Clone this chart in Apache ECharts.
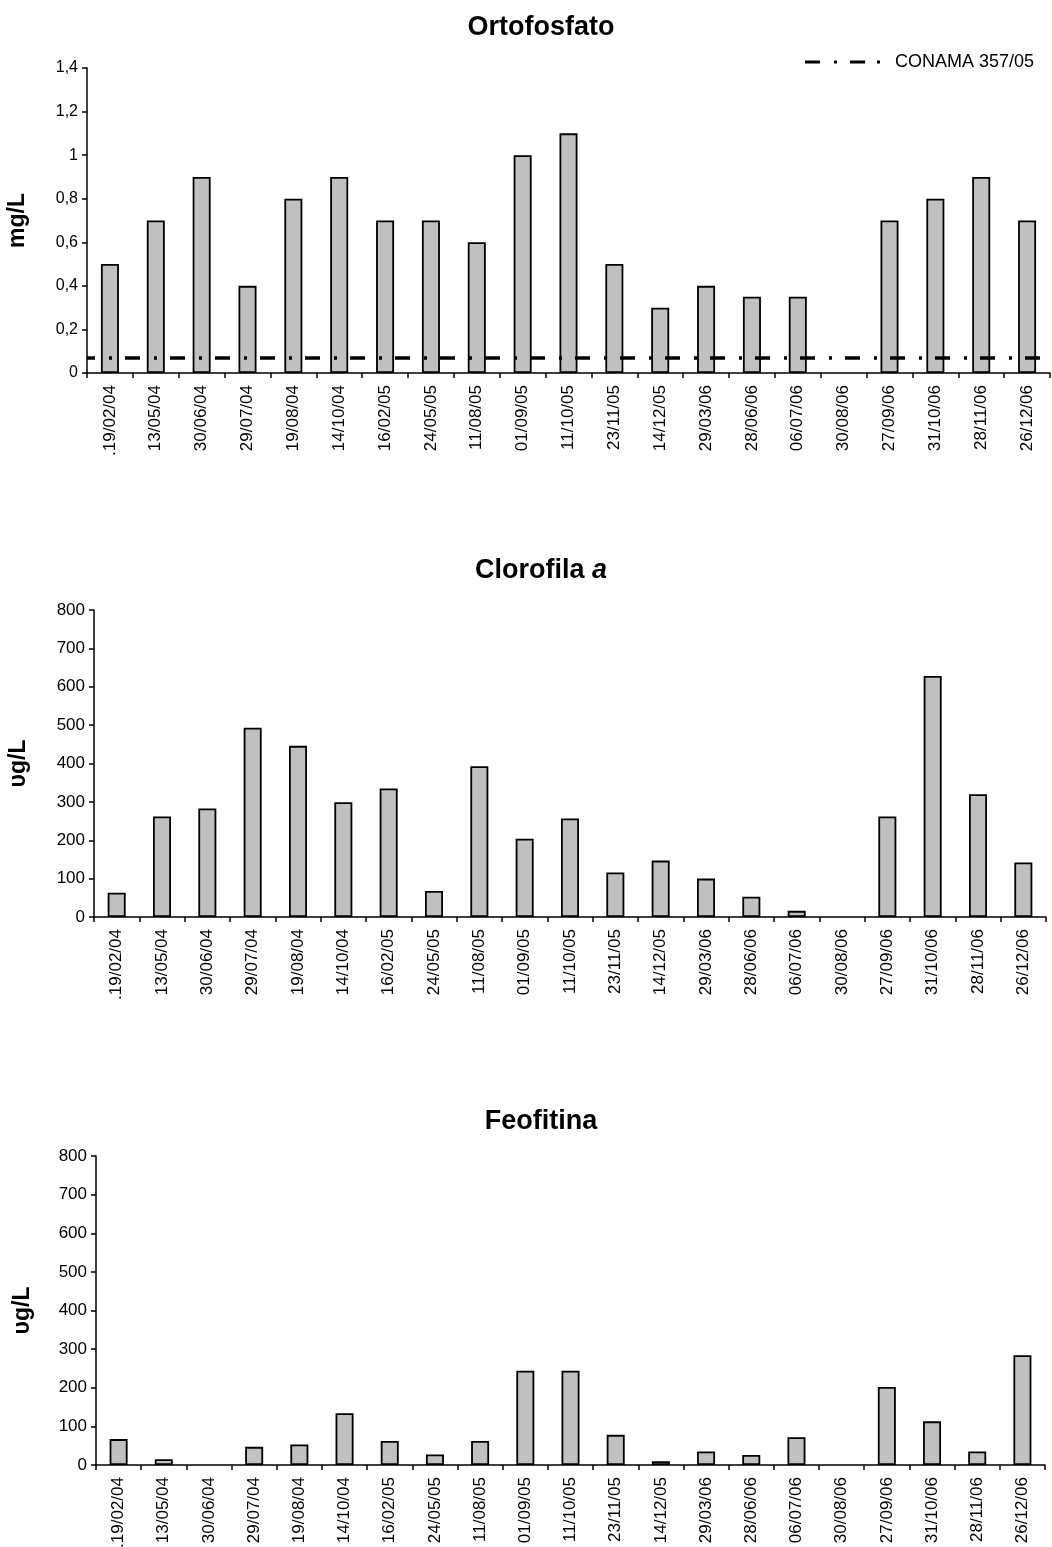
<!DOCTYPE html>
<html>
<head>
<meta charset="utf-8">
<script src="https://cdn.jsdelivr.net/npm/echarts@6/dist/echarts.min.js"></script>
<style>
html,body{margin:0;padding:0;background:#fff;}
#c{width:1052px;height:1547px;}
</style>
</head>
<body>
<div id="c"></div>
<script>
var categories = ['.19/02/04','13/05/04','30/06/04','29/07/04','19/08/04','14/10/04','16/02/05','24/05/05','11/08/05','01/09/05','11/10/05','23/11/05','14/12/05','29/03/06','28/06/06','06/07/06','30/08/06','27/09/06','31/10/06','28/11/06','26/12/06'];
var ortofosfato = [0.5,0.7,0.9,0.4,0.8,0.9,0.7,0.7,0.6,1.0,1.1,0.5,0.3,0.4,0.35,0.35,null,0.7,0.8,0.9,0.7];
var clorofila = [63,262,283,493,446,299,335,68,393,204,257,116,147,100,53,16,null,262,628,320,142];
var feofitina = [67,15,null,47,53,134,62,27,62,244,244,78,10,35,26,72,null,202,113,35,284];
var conamaLimit = 0.075;
var titles = ['Ortofosfato', 'Clorofila {i|a}', 'Feofitina'];
var yNames = ['mg/L', 'υg/L', 'υg/L'];
var yTicks1 = [0, 1.4, 0.2];
var yTicks23 = [0, 800, 100];

var FONT = "'Liberation Sans', Arial, sans-serif";
var chart = echarts.init(document.getElementById('c'), null, {renderer: 'canvas'});

var grids = [
  {left: 87, top: 68, height: 305, right: 2, containLabel: false, outerBoundsMode: 'none'},
  {left: 94, top: 610, height: 307, right: 6, containLabel: false, outerBoundsMode: 'none'},
  {left: 96, top: 1156, height: 309, right: 7, containLabel: false, outerBoundsMode: 'none'}
];
var titleTops = [9, 552, 1103];
var nameGaps = [58, 64, 62];

function xAxis(i) {
  return {
    type: 'category', gridIndex: i, data: categories, boundaryGap: true,
    axisLine: {lineStyle: {color: '#000', width: 1.5}},
    axisTick: {show: true, alignWithLabel: false, length: 5, lineStyle: {color: '#000', width: 1.5}},
    axisLabel: {interval: 0, rotate: 90, margin: 12, color: '#000', fontSize: 17, fontFamily: FONT},
    splitLine: {show: false}
  };
}
function yAxis(i, t, fmt, fs) {
  return {
    type: 'value', gridIndex: i, min: t[0], max: t[1], interval: t[2],
    name: yNames[i], nameLocation: 'middle', nameGap: nameGaps[i],
    nameTextStyle: {fontSize: 23, fontWeight: 'bold', color: '#000', fontFamily: FONT},
    axisLine: {show: true, lineStyle: {color: '#000', width: 1.5}},
    axisTick: {show: true, length: 5, lineStyle: {color: '#000', width: 1.5}},
    axisLabel: {color: '#000', fontSize: fs, margin: 9, fontFamily: FONT, formatter: fmt},
    splitLine: {show: false}
  };
}
var fmtComma = function (v) { return String(Math.round(v * 10) / 10).replace('.', ','); };
var fmtInt = function (v) { return String(v); };

function barSeries(i, data, name) {
  return {
    type: 'bar', name: name, xAxisIndex: i, yAxisIndex: i, data: data, barWidth: 18,
    itemStyle: {color: '#c0c0c0', borderColor: '#000', borderWidth: 1.8},
    emphasis: {disabled: true}, z: 2
  };
}

var option = {
  animation: false,
  backgroundColor: '#fff',
  textStyle: {fontFamily: FONT},
  title: titles.map(function (t, i) {
    return {
      text: t, left: 536, top: titleTops[i], textAlign: 'center',
      textStyle: {fontSize: 27, fontWeight: 'bold', color: '#000', fontFamily: FONT,
        rich: {i: {fontSize: 27, fontWeight: 'bold', fontStyle: 'italic', color: '#000', fontFamily: FONT}}}
    };
  }),
  legend: {
    left: 805, top: 53, itemWidth: 75, itemHeight: 3, padding: 0,
    data: [{name: 'CONAMA 357/05', icon: 'path://M0,0h15v3h-15z M29,0h3v3h-3z M45,0h15v3h-15z M72,0h3v3h-3z'}],
    itemStyle: {color: '#000'},
    textStyle: {fontSize: 18, color: '#000', fontFamily: FONT, padding: [0, 0, 0, 10]}
  },
  grid: grids,
  xAxis: [xAxis(0), xAxis(1), xAxis(2)],
  yAxis: [yAxis(0, yTicks1, fmtComma, 16), yAxis(1, yTicks23, fmtInt, 17), yAxis(2, yTicks23, fmtInt, 17)],
  series: [
    barSeries(0, ortofosfato, 'Ortofosfato'),
    {
      type: 'line', name: 'CONAMA 357/05', xAxisIndex: 0, yAxisIndex: 0, data: [],
      itemStyle: {color: '#000'}, lineStyle: {color: '#000'}, z: 5,
      markLine: {
        silent: true, symbol: ['none', 'none'], label: {show: false}, z: 5,
        lineStyle: {color: '#000', width: 3.5, type: [15, 14, 3, 13], dashOffset: 7},
        emphasis: {disabled: true},
        data: [{yAxis: conamaLimit}]
      }
    },
    barSeries(1, clorofila, 'Clorofila a'),
    barSeries(2, feofitina, 'Feofitina')
  ]
};
chart.setOption(option);
</script>
</body>
</html>
